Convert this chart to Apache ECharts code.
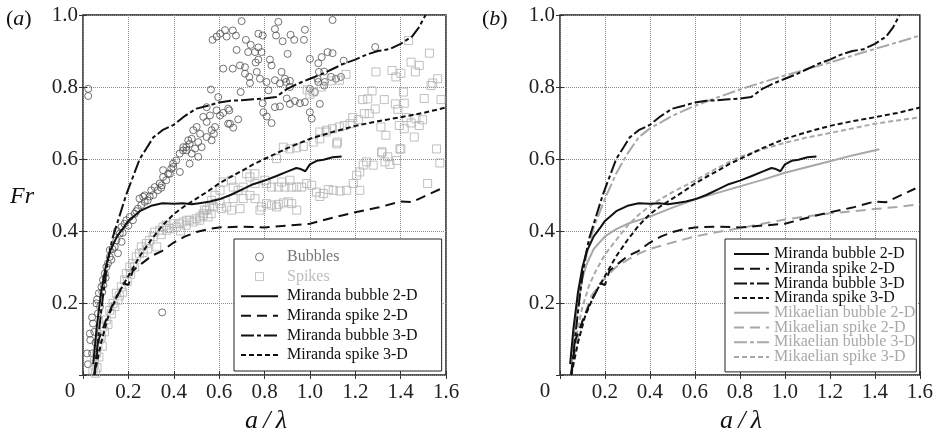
<!DOCTYPE html>
<html><head><meta charset="utf-8">
<script src="https://cdn.jsdelivr.net/npm/echarts@6/dist/echarts.min.js"></script>
<style>html,body{margin:0;padding:0;background:#fff}#c{width:936px;height:436px}</style>
</head><body><div id="c"></div><script>
const xTicks = [0, 0.2, 0.4, 0.6, 0.8, 1.0, 1.2, 1.4, 1.6];
const yTicks = [0, 0.2, 0.4, 0.6, 0.8, 1.0];

const bubbles = [
[0.018,0.06],[0.022,0.03],[0.03,0.115],[0.032,0.097],[0.044,0.143],[0.04,0.16],[0.05,0.12],[0.059,0.199],[0.066,0.171],[0.07,0.227],[0.062,0.21],[0.081,0.245],[0.088,0.264],[0.085,0.23],[0.096,0.282],[0.103,0.3],[0.11,0.31],[0.1,0.27],[0.118,0.328],[0.118,0.347],[0.125,0.32],[0.14,0.356],[0.147,0.374],[0.154,0.338],[0.162,0.393],[0.169,0.411],[0.175,0.395],[0.183,0.42],[0.191,0.43],[0.2,0.415],[0.206,0.439],[0.22,0.43],[0.228,0.448],[0.235,0.455],[0.242,0.462],[0.257,0.472],[0.249,0.49],[0.265,0.495],[0.272,0.481],[0.272,0.499],[0.285,0.485],[0.294,0.496],[0.301,0.513],[0.31,0.5],[0.316,0.522],[0.33,0.513],[0.338,0.532],[0.345,0.52],[0.353,0.55],[0.353,0.569],[0.367,0.541],[0.375,0.559],[0.383,0.559],[0.389,0.573],[0.398,0.578],[0.397,0.587],[0.411,0.596],[0.426,0.615],[0.427,0.564],[0.441,0.624],[0.442,0.633],[0.455,0.633],[0.457,0.624],[0.47,0.642],[0.47,0.587],[0.464,0.652],[0.479,0.656],[0.479,0.615],[0.486,0.68],[0.494,0.629],[0.501,0.689],[0.508,0.647],[0.508,0.606],[0.516,0.67],[0.523,0.633],[0.53,0.717],[0.545,0.703],[0.545,0.661],[0.545,0.744],[0.56,0.721],[0.567,0.652],[0.567,0.68],[0.577,0.67],[0.582,0.689],[0.589,0.735],[0.604,0.721],[0.618,0.728],[0.64,0.74],[0.64,0.698],[0.645,0.735],[0.648,0.698],[0.662,0.687],[0.684,0.71],[0.347,0.527],[0.04,0.06],[0.055,0.09],[0.075,0.19],[0.09,0.25],[0.13,0.35],[0.15,0.4],[0.17,0.37],
[0.023,0.795],[0.023,0.775],[0.349,0.174],
[0.571,0.931],[0.589,0.94],[0.604,0.948],[0.626,0.958],[0.633,0.94],[0.66,0.957],[0.674,0.943],[0.699,0.983],[0.677,0.903],[0.618,0.851],[0.66,0.851],[0.692,0.86],[0.714,0.855],[0.714,0.837],[0.733,0.828],[0.736,0.811],[0.718,0.931],[0.739,0.917],[0.728,0.897],[0.758,0.897],[0.773,0.91],[0.773,0.948],[0.792,0.943],[0.787,0.897],[0.773,0.876],[0.761,0.868],[0.766,0.842],[0.78,0.823],[0.809,0.814],[0.817,0.791],[0.824,0.876],[0.831,0.86],[0.846,0.961],[0.851,0.943],[0.861,0.981],[0.88,0.927],[0.902,0.892],[0.915,0.945],[0.931,0.931],[0.974,0.931],[0.978,0.959],[0.875,0.842],[0.89,0.823],[0.912,0.817],[0.846,0.819],[0.868,0.81],[1.0,0.878],[1.037,0.866],[1.052,0.883],[1.078,0.897],[1.1,0.894],[1.066,0.814],[1.037,0.814],[1.0,0.795],[1.022,0.786],[0.564,0.793],[0.695,0.786],[0.596,0.772],[0.792,0.755],[0.795,0.73],[0.81,0.718],[0.831,0.7],[0.846,0.744],[0.868,0.746],[0.898,0.768],[0.912,0.753],[0.934,0.761],[0.956,0.755],[0.978,0.758],[1.0,0.73],[1.008,0.712],[1.044,0.753],[0.912,0.8],[0.895,0.814],[1.1,0.986],[1.149,0.873],[1.288,0.911],[1.04,0.842],[1.063,0.843],[1.093,0.828],[1.115,0.823],[1.137,0.828],[1.063,0.804],[1.034,0.823]
];

const spikes = [
[0.044,0.014],[0.05,0.03],[0.051,0.042],[0.055,0.005],[0.059,0.06],[0.062,0.02],[0.066,0.083],[0.07,0.05],[0.075,0.1],[0.081,0.106],[0.085,0.08],[0.088,0.134],[0.095,0.12],[0.103,0.153],[0.11,0.14],[0.118,0.18],[0.125,0.17],[0.132,0.199],[0.14,0.19],[0.147,0.227],[0.154,0.208],[0.16,0.22],[0.169,0.245],[0.175,0.23],[0.183,0.264],[0.191,0.282],[0.195,0.26],[0.206,0.3],[0.21,0.28],[0.22,0.31],[0.228,0.3],[0.235,0.328],[0.249,0.338],[0.257,0.356],[0.265,0.34],[0.279,0.365],[0.285,0.35],[0.294,0.374],[0.309,0.384],[0.316,0.397],[0.325,0.356],[0.338,0.402],[0.345,0.39],[0.353,0.411],[0.367,0.416],[0.369,0.402],[0.382,0.407],[0.397,0.42],[0.411,0.411],[0.426,0.42],[0.43,0.4],[0.441,0.425],[0.455,0.416],[0.457,0.43],[0.47,0.43],[0.485,0.425],[0.499,0.434],[0.514,0.43],[0.516,0.439],[0.529,0.443],[0.53,0.448],[0.545,0.458],[0.551,0.439],[0.565,0.448],[0.536,0.458],[0.558,0.467],[0.574,0.467],[0.567,0.485],[0.582,0.499],[0.604,0.476],[0.604,0.513],[0.611,0.462],[0.618,0.536],[0.633,0.467],[0.655,0.458],[0.655,0.541],[0.662,0.522],[0.662,0.49],[0.684,0.513],[0.692,0.462],[0.706,0.522],[0.706,0.49],[0.721,0.559],[0.736,0.55],[0.736,0.499],[0.758,0.559],[0.758,0.532],[0.758,0.49],[0.78,0.458],[0.787,0.467],[0.802,0.541],[0.809,0.532],[0.809,0.476],[0.831,0.522],[0.831,0.472],[0.853,0.467],[0.853,0.601],[0.861,0.522],[0.861,0.474],[0.876,0.536],[0.883,0.478],[0.883,0.633],[0.89,0.522],[0.905,0.481],[0.912,0.541],[0.912,0.628],[0.92,0.522],[0.92,0.476],[0.942,0.631],[0.942,0.522],[0.942,0.458],[0.964,0.522],[0.971,0.635],[0.986,0.532],[1.008,0.527],[1.015,0.647],[1.029,0.508],[1.044,0.496],[1.044,0.656],[1.059,0.504],[1.071,0.675],[1.081,0.515],[1.103,0.513],[1.118,0.642],[1.133,0.511],[1.162,0.513],[1.191,0.532],[1.206,0.555],[1.22,0.564],[1.22,0.513],[1.235,0.583],[1.25,0.592],[1.279,0.583],[1.316,0.617],[1.331,0.592],[1.353,0.585],[1.382,0.596],[1.397,0.628],[1.519,0.532],[1.558,0.628],[1.573,0.589],
[1.435,0.929],[1.527,0.894],[1.446,0.869],[1.482,0.86],[1.465,0.842],[1.291,0.842],[1.362,0.846],[1.379,0.828],[1.401,0.838],[1.541,0.811],[1.563,0.823],[1.534,0.804],[1.159,0.835],[1.13,0.819],[1.093,0.817],[1.274,0.789],[1.233,0.765],[1.255,0.767],[1.328,0.765],[1.288,0.739],[1.262,0.726],[1.24,0.726],[1.215,0.709],[1.189,0.715],[1.177,0.698],[1.152,0.693],[1.13,0.689],[1.1,0.684],[1.074,0.68],[1.044,0.675],[1.377,0.753],[1.388,0.738],[1.416,0.755],[1.412,0.786],[1.504,0.768],[1.578,0.765],[1.426,0.715],[1.446,0.7],[1.468,0.712],[1.497,0.709],[1.482,0.693],[1.394,0.693],[1.416,0.684],[1.313,0.689],[1.335,0.666],[1.46,0.661],[1.122,0.647],[1.318,0.62],[1.343,0.606],[1.401,0.628],[0.988,0.792],[1.015,0.786],[1.05,0.8],[1.0,0.78]
];

const mirBubble2D = [[0.045,0.03],[0.06,0.13],[0.08,0.23],[0.10,0.30],[0.12,0.345],[0.15,0.385],[0.18,0.41],[0.20,0.428],[0.25,0.455],[0.30,0.47],[0.35,0.477],[0.40,0.476],[0.44,0.477],[0.48,0.474],[0.52,0.478],[0.56,0.482],[0.60,0.488],[0.65,0.50],[0.70,0.515],[0.75,0.53],[0.80,0.54],[0.85,0.552],[0.90,0.565],[0.94,0.575],[0.96,0.572],[0.98,0.566],[1.00,0.585],[1.03,0.595],[1.06,0.598],[1.10,0.605],[1.14,0.607]];
const mirSpike2D = [[0.05,0],[0.07,0.1],[0.1,0.15],[0.13,0.195],[0.16,0.23],[0.18,0.255],[0.2,0.25],[0.22,0.29],[0.26,0.31],[0.3,0.33],[0.35,0.345],[0.4,0.368],[0.45,0.385],[0.5,0.397],[0.55,0.405],[0.6,0.41],[0.7,0.412],[0.8,0.41],[0.9,0.415],[1.0,0.42],[1.1,0.437],[1.2,0.452],[1.3,0.465],[1.4,0.482],[1.45,0.48],[1.5,0.495],[1.58,0.518]];
const mirBubble3D = [[0.05,0],[0.07,0.12],[0.09,0.23],[0.11,0.32],[0.13,0.38],[0.16,0.44],[0.19,0.5],[0.22,0.55],[0.25,0.6],[0.28,0.63],[0.31,0.66],[0.35,0.68],[0.4,0.695],[0.45,0.72],[0.5,0.74],[0.55,0.748],[0.6,0.757],[0.65,0.762],[0.7,0.763],[0.75,0.766],[0.8,0.768],[0.85,0.772],[0.9,0.795],[0.95,0.81],[1.0,0.823],[1.05,0.835],[1.1,0.85],[1.15,0.865],[1.2,0.876],[1.25,0.89],[1.3,0.9],[1.35,0.905],[1.4,0.92],[1.45,0.94],[1.48,0.965],[1.51,1.0]];
const mirSpike3D = [[0.05,0],[0.08,0.09],[0.11,0.16],[0.15,0.22],[0.2,0.275],[0.25,0.33],[0.3,0.375],[0.35,0.415],[0.4,0.447],[0.45,0.47],[0.5,0.49],[0.55,0.51],[0.6,0.532],[0.65,0.55],[0.7,0.567],[0.75,0.585],[0.8,0.6],[0.9,0.63],[1.0,0.656],[1.1,0.675],[1.2,0.692],[1.3,0.705],[1.4,0.716],[1.5,0.728],[1.6,0.743]];
const mikBubble2D = [[0.05,0],[0.06,0.1],[0.08,0.2],[0.1,0.27],[0.12,0.31],[0.15,0.35],[0.2,0.385],[0.25,0.405],[0.3,0.42],[0.4,0.44],[0.5,0.465],[0.6,0.488],[0.7,0.506],[0.8,0.524],[0.9,0.542],[1.0,0.562],[1.1,0.578],[1.2,0.594],[1.3,0.61],[1.42,0.627]];
const mikSpike2D = [[0.05,0],[0.07,0.08],[0.1,0.15],[0.14,0.22],[0.2,0.27],[0.25,0.3],[0.3,0.32],[0.35,0.337],[0.4,0.35],[0.5,0.368],[0.6,0.385],[0.7,0.397],[0.8,0.408],[0.9,0.42],[1.0,0.432],[1.1,0.441],[1.2,0.449],[1.3,0.455],[1.4,0.461],[1.5,0.467],[1.6,0.474]];
const mikBubble3D = [[0.05,0],[0.07,0.13],[0.09,0.24],[0.12,0.34],[0.15,0.41],[0.2,0.49],[0.25,0.56],[0.3,0.615],[0.35,0.66],[0.4,0.685],[0.5,0.72],[0.6,0.748],[0.7,0.771],[0.8,0.793],[0.9,0.813],[1.0,0.832],[1.1,0.85],[1.2,0.868],[1.3,0.887],[1.4,0.906],[1.5,0.924],[1.6,0.943]];
const mikSpike3D = [[0.05,0],[0.07,0.1],[0.1,0.19],[0.13,0.25],[0.16,0.29],[0.2,0.335],[0.25,0.375],[0.3,0.415],[0.35,0.445],[0.4,0.47],[0.45,0.49],[0.5,0.508],[0.6,0.54],[0.7,0.575],[0.8,0.606],[0.9,0.627],[1.0,0.645],[1.1,0.66],[1.2,0.672],[1.3,0.685],[1.4,0.698],[1.5,0.707],[1.6,0.716]];

const FONT = 'Liberation Serif';
const BLACK = '#111';
const GRAY = '#a8a8a8';
const DASH_LONG = [10, 6];
const DASH_DOT = [13, 3, 4, 3];
const DASH_SHORT = [5, 3];

const chart = echarts.init(document.getElementById('c'), null, {renderer: 'canvas'});

function xAx(grid, pos) {
  const main = pos === 'bottom';
  return {
    type: 'value', gridIndex: grid, position: pos, min: xTicks[0], max: xTicks[xTicks.length - 1], interval: 0.2,
    axisLine: {show: false},
    axisTick: {show: true, inside: true, length: 4, lineStyle: {color: '#333'}},
    axisLabel: {show: main, margin: 7, fontFamily: FONT, fontSize: 21, color: '#222',
      formatter: v => Math.abs(v) < 1e-9 ? '' : v.toFixed(1)},
    splitLine: {show: main, lineStyle: {type: 'dotted', color: '#8a8a8a', width: 1}}
  };
}
function yAx(grid, pos) {
  const main = pos === 'left';
  return {
    type: 'value', gridIndex: grid, position: pos, min: yTicks[0], max: yTicks[yTicks.length - 1], interval: 0.2,
    axisLine: {show: false},
    axisTick: {show: true, inside: true, length: 4, lineStyle: {color: '#333'}},
    axisLabel: {show: main, margin: 5, fontFamily: FONT, fontSize: 21, color: '#222',
      formatter: v => Math.abs(v) < 1e-9 ? '' : v.toFixed(1)},
    splitLine: {show: main, lineStyle: {type: 'dotted', color: '#8a8a8a', width: 1}}
  };
}
function line(name, data, ax, color, type) {
  return {name, type: 'line', xAxisIndex: ax, yAxisIndex: ax, data, symbol: 'none', showSymbol: false,
    lineStyle: {color, width: 2, type}, itemStyle: {color}, z: 4, silent: true, animation: false};
}
function lineItem(name, color) {
  const o = {name, itemStyle: {color: 'transparent', borderColor: 'transparent', borderWidth: 0, opacity: 0}};
  if (color) o.textStyle = {color};
  return o;
}

const SQUARE = 'path://M0,0L10,0L10,10L0,10Z';

chart.setOption({
  animation: false,
  backgroundColor: '#fff',
  grid: [
    {left: 83, top: 15, width: 363, height: 360, show: true, borderColor: '#222', borderWidth: 1.5, backgroundColor: 'transparent'},
    {left: 560, top: 15, width: 362, height: 360, show: true, borderColor: '#222', borderWidth: 1.5, backgroundColor: 'transparent'}
  ],
  xAxis: [xAx(0, 'bottom'), xAx(0, 'top'), xAx(1, 'bottom'), xAx(1, 'top')],
  yAxis: [yAx(0, 'left'), yAx(0, 'right'), yAx(1, 'left'), yAx(1, 'right')],
  legend: [
    {
      orient: 'vertical', left: 234, top: 239, itemWidth: 37, itemHeight: 8, itemGap: 3.6,
      padding: [10, 24, 8, 6], borderColor: '#222', borderWidth: 1, backgroundColor: '#fff',
      selectedMode: false,
      textStyle: {fontFamily: FONT, fontSize: 16, color: '#111', lineHeight: 16, padding: [0, 0, 0, 4]},
      data: [
        {name: 'Bubbles', icon: 'circle', itemStyle: {color: 'transparent', borderColor: '#555', borderWidth: 1}, textStyle: {color: '#7a7672'}},
        {name: 'Spikes', icon: SQUARE, itemStyle: {color: 'transparent', borderColor: '#b5b5b5', borderWidth: 1}, textStyle: {color: '#bcbcbc'}},
        lineItem('Miranda bubble 2-D'), lineItem('Miranda spike 2-D'), lineItem('Miranda bubble 3-D'), lineItem('Miranda spike 3-D')
      ]
    },
    {
      orient: 'vertical', left: 725, top: 239, itemWidth: 35, itemHeight: 8, itemGap: -1.3,
      padding: [7, 1, 7, 8], borderColor: '#222', borderWidth: 1, backgroundColor: '#fff',
      selectedMode: false,
      textStyle: {fontFamily: FONT, fontSize: 16, color: '#111', lineHeight: 15, padding: [0, 0, 0, 0]},
      data: [
        lineItem('Miranda bubble 2-D'), lineItem('Miranda spike 2-D'), lineItem('Miranda bubble 3-D'), lineItem('Miranda spike 3-D'),
        lineItem('Mikaelian bubble 2-D', GRAY), lineItem('Mikaelian spike 2-D', GRAY),
        lineItem('Mikaelian bubble 3-D', GRAY), lineItem('Mikaelian spike 3-D', GRAY)
      ]
    }
  ],
  series: [
    {name: 'Bubbles', type: 'scatter', xAxisIndex: 0, yAxisIndex: 0, data: bubbles, symbol: 'circle', symbolSize: 7,
      itemStyle: {color: 'transparent', borderColor: '#505050', borderWidth: 1}, z: 2, silent: true},
    {name: 'Spikes', type: 'scatter', xAxisIndex: 0, yAxisIndex: 0, data: spikes, symbol: 'rect', symbolSize: 8,
      itemStyle: {color: 'transparent', borderColor: '#b0b0b0', borderWidth: 1}, z: 2, silent: true},
    line('Miranda bubble 2-D', mirBubble2D, 0, BLACK, 'solid'),
    line('Miranda spike 2-D', mirSpike2D, 0, BLACK, DASH_LONG),
    line('Miranda bubble 3-D', mirBubble3D, 0, BLACK, DASH_DOT),
    line('Miranda spike 3-D', mirSpike3D, 0, BLACK, DASH_SHORT),
    line('Mikaelian bubble 2-D', mikBubble2D, 2, GRAY, 'solid'),
    line('Mikaelian spike 2-D', mikSpike2D, 2, GRAY, DASH_LONG),
    line('Mikaelian bubble 3-D', mikBubble3D, 2, GRAY, DASH_DOT),
    line('Mikaelian spike 3-D', mikSpike3D, 2, GRAY, DASH_SHORT),
    line('Miranda bubble 2-D', mirBubble2D, 2, BLACK, 'solid'),
    line('Miranda spike 2-D', mirSpike2D, 2, BLACK, DASH_LONG),
    line('Miranda bubble 3-D', mirBubble3D, 2, BLACK, DASH_DOT),
    line('Miranda spike 3-D', mirSpike3D, 2, BLACK, DASH_SHORT)
  ],
  graphic: [
    {type: 'text', left: 6, top: 8, style: {text: '{n|(}{i|a}{n|)}', rich: {
      n: {fontFamily: FONT, fontSize: 22, fill: '#111'}, i: {fontFamily: FONT, fontSize: 22, fontStyle: 'italic', fill: '#111'}}}},
    {type: 'text', left: 482, top: 8, style: {text: '{n|(}{i|b}{n|)}', rich: {
      n: {fontFamily: FONT, fontSize: 22, fill: '#111'}, i: {fontFamily: FONT, fontSize: 22, fontStyle: 'italic', fill: '#111'}}}},
    {type: 'text', x: 22, y: 197, style: {text: 'Fr', fontFamily: FONT, fontSize: 24, fontStyle: 'italic', fill: '#111', align: 'center', verticalAlign: 'middle'}},
    {type: 'text', x: 70, y: 391, style: {text: '0', fontFamily: FONT, fontSize: 21, fill: '#222', align: 'center', verticalAlign: 'middle'}},
    {type: 'text', x: 545, y: 391, style: {text: '0', fontFamily: FONT, fontSize: 21, fill: '#222', align: 'center', verticalAlign: 'middle'}},
    {type: 'text', x: 266, y: 421, style: {text: 'a\u2009/\u2009λ', fontFamily: FONT, fontSize: 26, fontStyle: 'italic', fill: '#111', align: 'center', verticalAlign: 'middle'}},
    {type: 'text', x: 741, y: 421, style: {text: 'a\u2009/\u2009λ', fontFamily: FONT, fontSize: 26, fontStyle: 'italic', fill: '#111', align: 'center', verticalAlign: 'middle'}}
  ]
});
</script></body></html>
